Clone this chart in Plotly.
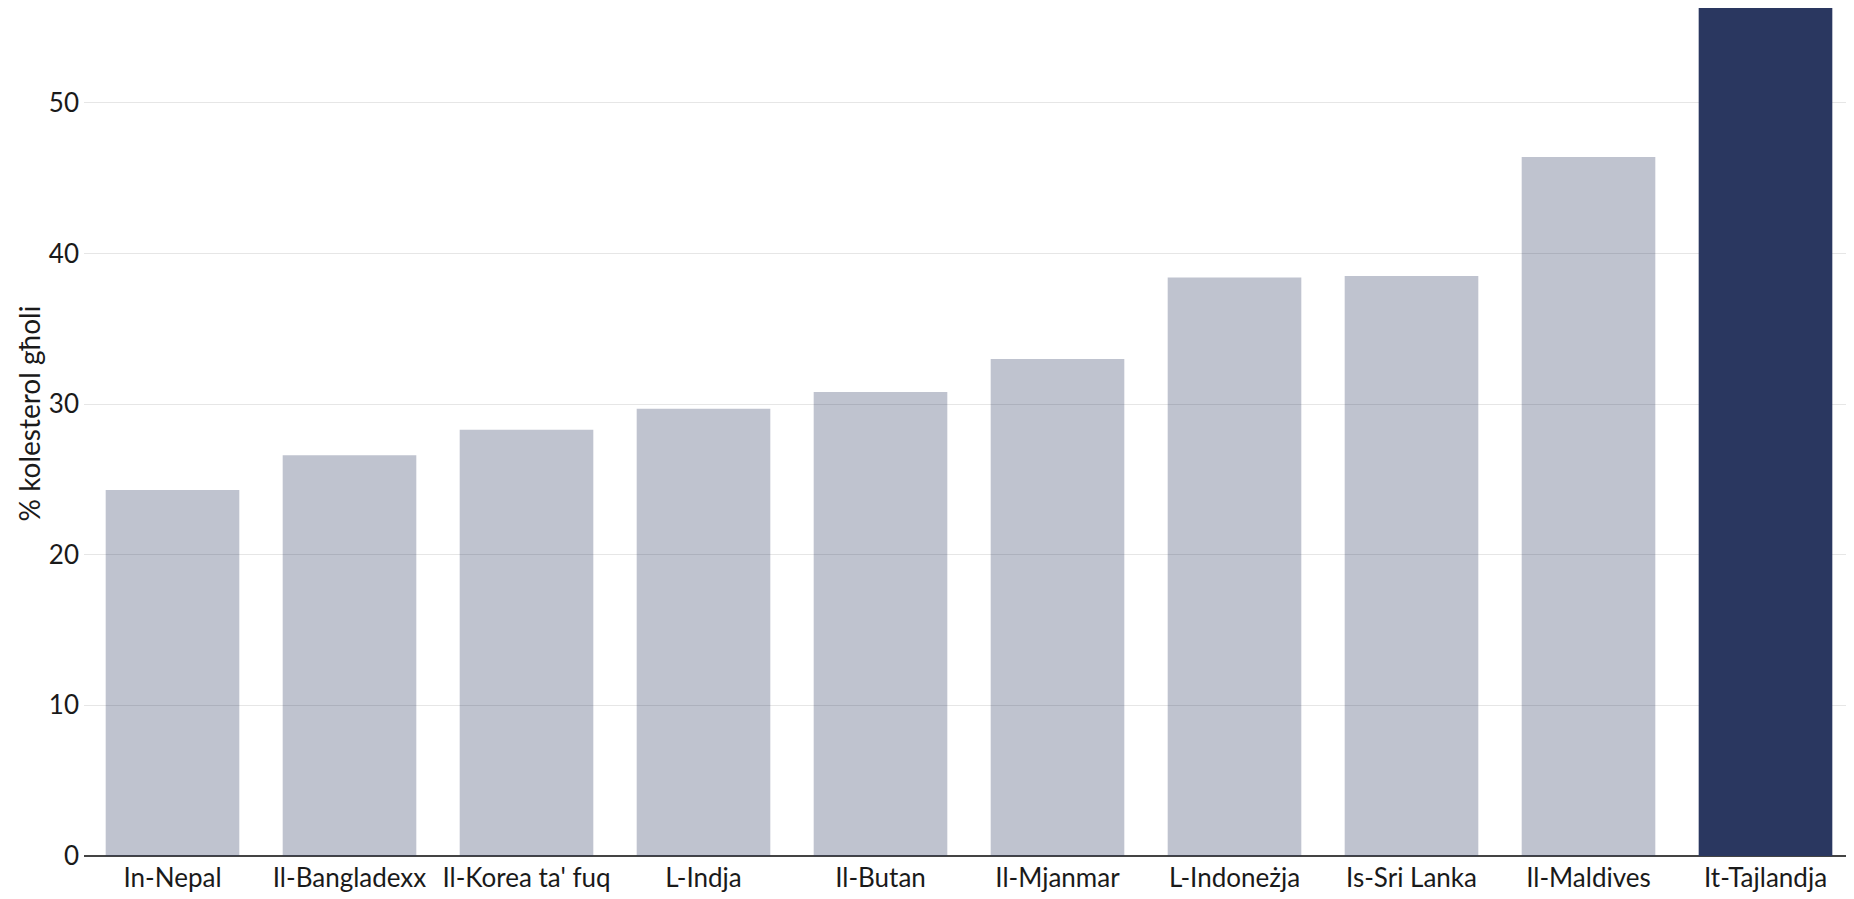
import plotly.graph_objects as go

categories = ["In-Nepal", "Il-Bangladexx", "Il-Korea ta' fuq", "L-Indja", "Il-Butan",
              "Il-Mjanmar", "L-Indoneżja", "Is-Sri Lanka", "Il-Maldives", "It-Tajlandja"]
values = [24.3, 26.6, 28.3, 29.7, 30.8, 33.0, 38.4, 38.5, 46.4, 56.3]
highlight = "It-Tajlandja"

y_title = "% kolesterol g\u0127oli"
y_ticks = [0, 10, 20, 30, 40, 50]

base_rgb = (42, 55, 96)
colors = [
    f"rgba({base_rgb[0]},{base_rgb[1]},{base_rgb[2]},1)" if c == highlight
    else f"rgba({base_rgb[0]},{base_rgb[1]},{base_rgb[2]},0.3)"
    for c in categories
]

fig = go.Figure(go.Bar(x=categories, y=values, marker=dict(color=colors, line=dict(width=0)),
                       hoverinfo="x+y"))

font_family = "Lato, Noto Sans, sans-serif"
fig.update_layout(
    width=1854, height=899,
    margin=dict(l=76, r=8, t=0, b=51),
    paper_bgcolor="white", plot_bgcolor="white",
    bargap=0.245,
    showlegend=False,
    font=dict(family=font_family, size=26, color="#1a1a1a"),
    annotations=[dict(
        text=y_title, textangle=-90, xref="paper", yref="paper",
        x=-0.031, y=0.522, xanchor="center", yanchor="middle", showarrow=False,
        font=dict(size=28, color="#1a1a1a"),
    )],
)
fig.update_xaxes(
    showgrid=False, showline=False, zeroline=False,
    tickfont=dict(size=26), ticks="", range=[-0.5, 9.5], ticklabelstandoff=4,
)
fig.update_yaxes(
    range=[0, max(values)], tickvals=y_ticks, showgrid=True, gridcolor="#e6e6e6", gridwidth=1,
    zeroline=True, zerolinecolor="#444444", zerolinewidth=1.5,
    showline=False, ticks="", ticklabelstandoff=4,
    tickfont=dict(size=26),
)

fig.write_html("out.html")
